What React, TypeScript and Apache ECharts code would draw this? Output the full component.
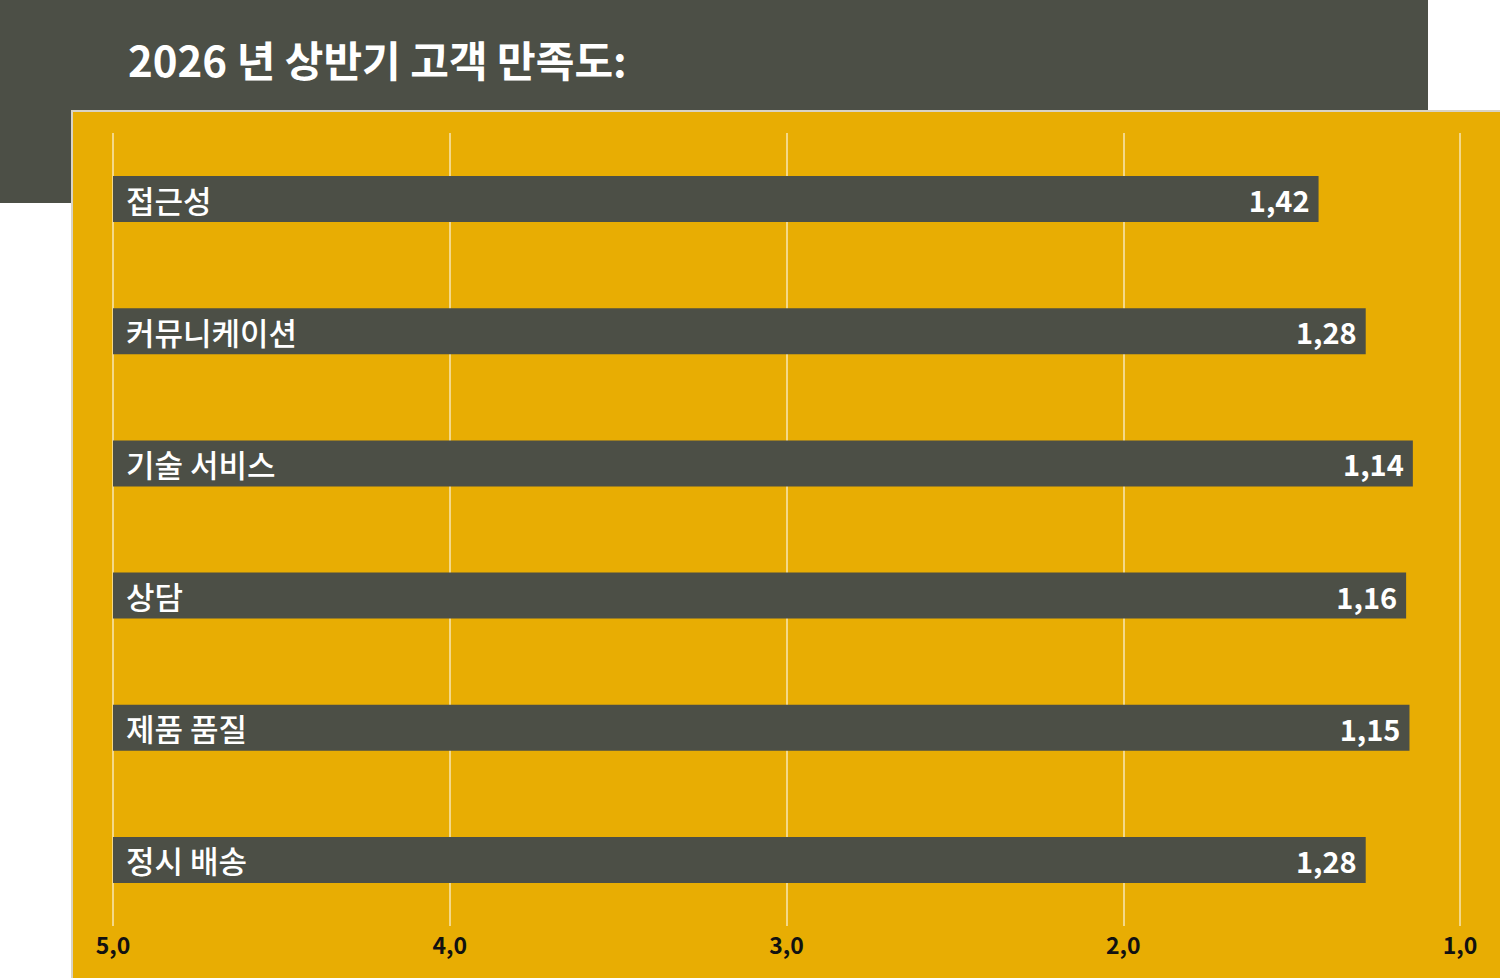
import React, { useEffect, useRef } from 'react';
import * as echarts from 'echarts';

const title = '2026 년 상반기 고객 만족도:';
const categories = ['접근성', '커뮤니케이션', '기술 서비스', '상담', '제품 품질', '정시 배송'];
const scores = [1.42, 1.28, 1.14, 1.16, 1.15, 1.28];
const axisTicks = [1, 2, 3, 4, 5];

const DARK = '#4c4f46';
const YELLOW = '#e8ad03';
const FONT = '"Noto Sans CJK KR", "Noto Sans", sans-serif';

const fmt = (v: number, digits: number) => v.toFixed(digits).replace('.', ',');

const App: React.FC = () => {
  const chartRef = useRef<HTMLDivElement>(null);

  useEffect(() => {
    if (!chartRef.current) return;
    const chart = echarts.init(chartRef.current, null, { renderer: 'svg' });

    const options: echarts.EChartsOption = {
      animation: false,
      backgroundColor: '#ffffff',
      graphic: [
        { type: 'rect', z: -10, shape: { x: 0, y: 0, width: 1428, height: 203 }, style: { fill: DARK } },
        {
          type: 'rect', z: -9,
          shape: { x: 72, y: 111, width: 1440, height: 880 },
          style: { fill: YELLOW, stroke: '#d8d3c6', lineWidth: 2 }
        },
        {
          type: 'text', left: 128, top: 37,
          style: { text: title, fill: '#ffffff', font: `bold 42px ${FONT}` }
        }
      ],
      grid: { left: 113, right: 40, top: 133, bottom: 52, containLabel: false },
      xAxis: {
        type: 'value',
        inverse: true,
        min: axisTicks[0],
        max: axisTicks[axisTicks.length - 1],
        interval: 1,
        startValue: 5,
        axisLine: { show: false },
        axisTick: { show: false },
        splitLine: { show: true, lineStyle: { color: 'rgba(255,255,255,0.7)', width: 1.5 } },
        axisLabel: {
          color: '#111111',
          fontWeight: 'bold',
          fontSize: 23,
          fontFamily: FONT,
          margin: 6,
          formatter: (v: number) => fmt(v, 1)
        }
      } as any,
      yAxis: {
        type: 'category',
        inverse: true,
        data: categories,
        axisLine: { show: false },
        axisTick: { show: false },
        splitLine: { show: false },
        z: 10,
        axisLabel: {
          inside: true,
          margin: 13,
          color: '#ffffff',
          fontSize: 31,
          fontWeight: 500,
          fontFamily: FONT
        }
      },
      series: [
        {
          type: 'bar',
          data: scores,
          barWidth: 46,
          itemStyle: { color: DARK },
          label: {
            show: true,
            position: 'insideRight',
            distance: 9,
            color: '#ffffff',
            fontWeight: 'bold',
            fontSize: 29,
            fontFamily: FONT,
            formatter: (p: any) => fmt(p.value, 2)
          }
        }
      ]
    };

    chart.setOption(options);
    return () => {
      chart.dispose();
    };
  }, []);

  return (
    <div
      ref={chartRef}
      style={{ position: 'fixed', left: 0, top: 0, width: 1500, height: 978 }}
    />
  );
};

export default App;
